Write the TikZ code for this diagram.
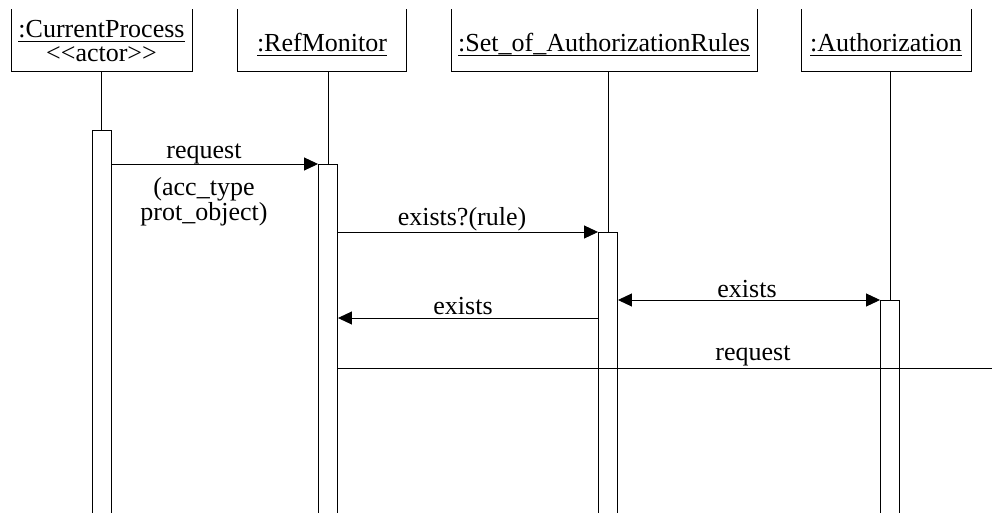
\documentclass[tikz,border=0pt]{standalone}
\usepackage{fontspec}
\setmainfont{Liberation Serif}
\usetikzlibrary{arrows.meta}
% underlined object name
\newcommand\objname[1]{\setbox0\hbox{#1}\rlap{\rule[-4.4pt]{\wd0}{1.4pt}}\box0}
\begin{document}
\begin{tikzpicture}[x=1pt,y=-1pt,line width=0.9pt,
  txt/.style={font=\fontsize{26}{30}\selectfont,inner sep=0pt,anchor=base},
  head/.style={draw,minimum height=90pt,anchor=south,inner sep=0pt},
  act/.style={draw,fill=white,minimum width=19pt,minimum height=420pt,anchor=north,inner sep=0pt},
  msg/.style={-{Triangle[length=14pt,width=13pt]}},
  dmsg/.style={{Triangle[length=14pt,width=13pt]}-{Triangle[length=14pt,width=13pt]}}]
\useasboundingbox (0,0) rectangle (992,513);
\clip (0,10) rectangle (992,513);

% object heads (their tops run off the page)
\node[head,minimum width=181pt] (cp)    at (101.5,72) {};
\node[head,minimum width=169pt] (rm)    at (321.5,72) {};
\node[head,minimum width=306pt] (rules) at (604,72) {};
\node[head,minimum width=170pt] (auth)  at (886,72) {};

\node[txt] (cpname)    at (101.5,38) {\objname{:CurrentProcess}};
\node[txt] (cpstereo)  at (101.5,62) {\textless\kern0pt\textless actor\textgreater\kern0pt\textgreater};
\node[txt] (rmname)    at (322,52) {\objname{:RefMonitor}};
\node[txt] (rulesname) at (604,52) {\objname{:Set\_of\_AuthorizationRules}};
\node[txt] (authname)  at (886,52) {\objname{:Authorization}};

% activation bars
\node[act] (cpact)    at (101.5,130) {};
\node[act] (rmact)    at (328,164) {};
\node[act] (rulesact) at (608,232) {};
\node[act] (authact)  at (890,300) {};

% lifelines
\draw (cpact.north) -- (cpact.north |- cp.south);
\draw (rmact.north) -- (rmact.north |- rm.south);
\draw (rulesact.north) -- (rulesact.north |- rules.south);
\draw (authact.north) -- (authact.north |- auth.south);

% messages
\draw[msg] (cpact.east |- rmact.north) -- (rmact.north west);
\node[txt] (m1a) at (204,159) {request};
\node[txt] (m1b) at (204,195) {(acc\_type};
\node[txt] (m1c) at (204,220) {prot\_object)};

\draw[msg] (rmact.east |- rulesact.north) -- (rulesact.north west);
\node[txt] (m2) at (462,225) {exists?(rule)};

\draw[dmsg] (rulesact.east |- authact.north) -- (authact.north west);
\node[txt] (m3) at (747,297) {exists};

\coordinate (ret) at (0,318);
\draw[msg] (rulesact.west |- ret) -- (rmact.east |- ret);
\node[txt] (m4) at (463,314) {exists};

\coordinate (out) at (992,368);
\draw (rmact.east |- out) -- (out);
\node[txt] (m5) at (753,360) {request};
\end{tikzpicture}
\end{document}
